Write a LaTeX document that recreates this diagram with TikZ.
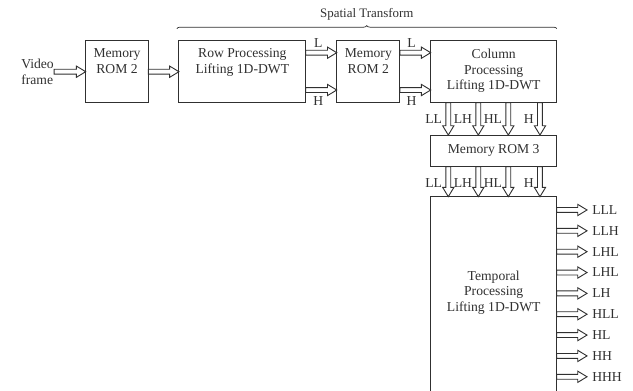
\documentclass[tikz,border=0pt]{standalone}
\usepackage{fontspec}
\setmainfont{Liberation Serif}
\usepackage{tikz}
\usetikzlibrary{positioning,calc,decorations.pathreplacing}
\definecolor{ink}{HTML}{303030}
\tikzset{
  box/.style={draw=ink,line width=0.75pt,inner sep=0pt,outer sep=0pt,minimum width=3.15cm,minimum height=1.55cm},
  txt/.style={inner sep=0pt,align=center,text=ink,font=\fontsize{9.7}{11.2}\selectfont},
  lab/.style={inner sep=0pt,text=ink,font=\fontsize{9.7}{11.2}\selectfont},
  hollow/.style={draw=ink,line width=0.65pt,line join=miter,to path={
    ($(\tikztostart)!1.75pt!90:(\tikztotarget)$)
    -- ($($(\tikztotarget)!6.6pt!(\tikztostart)$)!1.75pt!90:(\tikztotarget)$)
    -- ($($(\tikztotarget)!6.6pt!(\tikztostart)$)!4pt!90:(\tikztotarget)$)
    -- (\tikztotarget)
    -- ($($(\tikztotarget)!6.6pt!(\tikztostart)$)!4pt!-90:(\tikztotarget)$)
    -- ($($(\tikztotarget)!6.6pt!(\tikztostart)$)!1.75pt!-90:(\tikztotarget)$)
    -- ($(\tikztostart)!1.75pt!-90:(\tikztotarget)$) -- cycle}}
}
\begin{document}
\begin{tikzpicture}[x=0.025cm,y=-0.025cm]
\useasboundingbox (0,0) rectangle (633,390);
\clip (0,0) rectangle (633,390);
\node[box,minimum width=1.565cm] (memA) at (117,71.7) {};
\node[box,minimum width=3.17cm] (row) at (242.35,71.7) {};
\node[box,minimum width=1.58cm] (memB) at (368.35,71.7) {};
\node[box] (col) at (493.7,71.7) {};
\node[box,minimum height=0.79cm,txt] (m3) at (493.7,150.85) {Memory ROM 3};
\node[box,minimum height=6cm] (temp) at (493.7,316.7) {};
\node[txt,below=5.6pt of memA.north] {Memory\\ROM 2};
\node[txt,below=5.6pt of row.north] {Row Processing\\Lifting 1D-DWT};
\node[txt,below=5.6pt of memB.north] {Memory\\ROM 2};
\node[txt,below=5.6pt of col.north] {Column\\Processing\\Lifting 1D-DWT};
\node[txt] at ($(temp.north)+(0,96)$) {Temporal\\Processing\\Lifting 1D-DWT};
\node[txt,align=left,left=22.5pt of memA.west] (video) {Video\\frame};
\draw[hollow] (video.east) to (memA.west);
\draw[hollow] (memA.east) to (row.west);
\coordinate (rl) at ($(row.north east)+(0,12)$);
\coordinate (rh) at ($(row.south east)+(0,-12.7)$);
\coordinate (ml) at ($(memB.north east)+(0,12)$);
\coordinate (mh) at ($(memB.south east)+(0,-12.7)$);
\draw[hollow] (rl) to (rl -| memB.west);
\draw[hollow] (rh) to (rh -| memB.west);
\draw[hollow] (ml) to (ml -| col.west);
\draw[hollow] (mh) to (mh -| col.west);
\node[lab] at ($(rl)+(12.5,-10)$) {L};
\node[lab] at ($(rh)+(12.5,11)$) {H};
\node[lab] at ($(ml)+(11.5,-10)$) {L};
\node[lab] at ($(mh)+(11.5,11)$) {H};
\coordinate (bl) at ($(row.north west)+(-2,-12)$);
\coordinate (br) at ($(col.north east)+(0,-12)$);
\draw[ink,line width=0.5pt,decorate,decoration={brace,amplitude=2.2pt}] (bl) -- (br);
\node[lab,font=\fontsize{9.2}{11}\selectfont] at ($(bl)!0.5!(br)+(0,-14)$) {Spatial Transform};
\foreach \dx/\lab [count=\i] in {17.6/LL,47.6/LH,77.6/HL,109.3/H}{
  \coordinate (c\i) at ($(col.south west)+(\dx,0)$);
  \coordinate (d\i) at ($(m3.south west)+(\dx,0)$);
  \draw[hollow] (c\i) to (c\i |- m3.north);
  \draw[hollow] (d\i) to (d\i |- temp.north);
  \node[lab,anchor=east] at ($(c\i)+(-6,16)$) {\lab};
  \node[lab,anchor=east] at ($(d\i)+(-6,16)$) {\lab};
}
\foreach \lab [count=\i from 0] in {LLL,LLH,LHL,LHL,LH,HLL,HL,HH,HHH}{
  \coordinate (o\i) at ($(temp.north east)+(0,13.3+20.85*\i)$);
  \coordinate (e\i) at ($(o\i)+(30.3,0)$);
  \draw[hollow] (o\i) to (e\i);
  \node[lab,anchor=west] at ($(e\i)+(5,0)$) {\lab};
}
\end{tikzpicture}
\end{document}
